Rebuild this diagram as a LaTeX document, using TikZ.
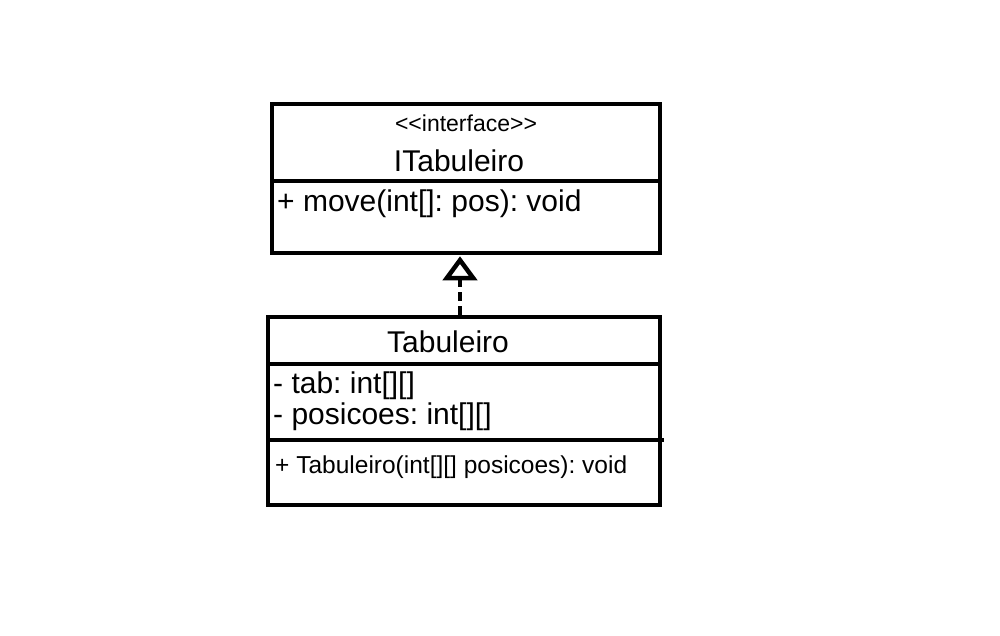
\documentclass[tikz,border=0pt]{standalone}
\usepackage{fontspec}
\setmainfont{Liberation Sans}
\usetikzlibrary{arrows.meta}
\frenchspacing
\begin{document}
\begin{tikzpicture}[x=1pt,y=-1pt,
  box/.style={draw, line width=4.5pt, rectangle, inner sep=0pt},
  lbl/.style={inner sep=0pt, anchor=west},
  big/.style={font=\fontsize{30}{34}\selectfont},
  mid/.style={font=\fontsize{24.5}{28}\selectfont},
  small/.style={font=\fontsize{23}{26}\selectfont}]
\useasboundingbox (0,0) rectangle (1000,636);
% interface box
\node[box, minimum width=388pt, minimum height=149pt] (itab) at (466,178.5) {};
\draw[line width=4.5pt] (272,181) -- (660,181);
\node[small, inner sep=0pt] (stereo) at (466,123) {<\kern0pt<interface>\kern0pt>};
\node[big, inner sep=0pt] (iname) at (459,161) {ITabuleiro};
\node[big, lbl] (imove) at (277,204) {+ move(int[]: pos): void};
% class box
\node[box, minimum width=392pt, minimum height=188pt] (tab) at (464,411) {};
\draw[line width=4.5pt] (268,364) -- (660,364);
\draw[line width=4.5pt] (268,440) -- (664,440);
\node[big, inner sep=0pt] (cname) at (448,342) {Tabuleiro};
\node[big, lbl] (atab) at (273,386) {- tab: int[][]};
\node[big, lbl] (apos) at (273,417) {- posicoes: int[][]};
\node[mid, lbl] (ctor) at (275,467) {+ Tabuleiro(int[][] posicoes): void};
% realization
\coordinate (from) at ([xshift=-4pt]tab.north);
\coordinate (to) at ([xshift=-6pt,yshift=-1pt]itab.south);
\draw[line width=4.5pt, dash pattern=on 9pt off 5pt,
  -{Triangle[open, length=24pt, width=34pt, line width=4.5pt]}] (from) -- (to);
\end{tikzpicture}
\end{document}
